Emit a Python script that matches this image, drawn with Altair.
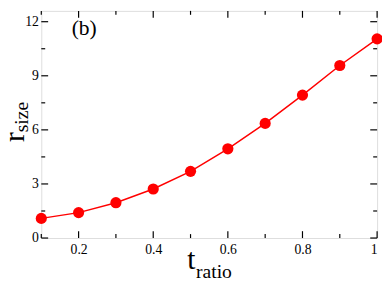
import altair as alt
import pandas as pd

# data
t_ratio = [0.1, 0.2, 0.3, 0.4, 0.5, 0.6, 0.7, 0.8, 0.9, 1.0]
r_size = [1.09, 1.41, 1.96, 2.72, 3.70, 4.95, 6.36, 7.93, 9.57, 11.05]

x_major = [0.2, 0.4, 0.6, 0.8, 1.0]
x_minor = [0.1, 0.3, 0.5, 0.7, 0.9]
y_major = [0, 3, 6, 9, 12]
y_minor = [1.5, 4.5, 7.5, 10.5]

W, H = 343, 232
XDOM = [0.1, 1.0]
YDOM = [0, 12.6]
SERIF = "Times New Roman, Liberation Serif, serif"

df = pd.DataFrame({"t": t_ratio, "r": r_size})

xs = alt.Scale(domain=XDOM, nice=False, zero=False)
ys = alt.Scale(domain=YDOM, nice=False, zero=False)

base = alt.Chart(df)

line = base.mark_line(color="#ff0000", strokeWidth=1.5).encode(
    x=alt.X("t:Q", scale=xs,
            axis=alt.Axis(values=x_major, format=".1~f", title=None, tickSize=0,
                          domain=False, grid=False, labelFont=SERIF, labelFontSize=14,
                          labelColor="black", labelPadding=5)),
    y=alt.Y("r:Q", scale=ys,
            axis=alt.Axis(values=y_major, format="d", title=None, tickSize=0,
                          domain=False, grid=False, labelFont=SERIF, labelFontSize=14,
                          labelColor="black", labelPadding=3)),
)
pts = base.mark_circle(color="#ff0000", size=130, opacity=1).encode(
    x=alt.X("t:Q", scale=xs), y=alt.Y("r:Q", scale=ys)
)


def xticks(vals, length):
    d = pd.DataFrame({"v": vals})
    b = alt.Chart(d).mark_rule(color="black", strokeWidth=1.2)
    bottom = b.encode(x=alt.X("v:Q", scale=xs), y=alt.value(H), y2=alt.value(H - length))
    top = b.encode(x=alt.X("v:Q", scale=xs), y=alt.value(0), y2=alt.value(length))
    return [bottom, top]


def yticks(vals, length):
    d = pd.DataFrame({"v": vals})
    b = alt.Chart(d).mark_rule(color="black", strokeWidth=1.2)
    left = b.encode(y=alt.Y("v:Q", scale=ys), x=alt.value(0), x2=alt.value(length))
    right = b.encode(y=alt.Y("v:Q", scale=ys), x=alt.value(W), x2=alt.value(W - length))
    return [left, right]


ticks = xticks(x_major, 7) + xticks(x_minor, 4) + yticks(y_major, 7) + yticks(y_minor, 4)

label_df = pd.DataFrame({"a": [0]})
lab = alt.Chart(label_df)
panel = lab.mark_text(text="(b)", font=SERIF, fontSize=22, align="left", baseline="alphabetic",
                      color="black").encode(x=alt.value(31), y=alt.value(25))

xt1 = lab.mark_text(text="t", font=SERIF, fontSize=30, align="left", baseline="alphabetic",
                    color="black").encode(x=alt.value(149), y=alt.value(H + 32))
xt2 = lab.mark_text(text="ratio", font=SERIF, fontSize=20, align="left", baseline="alphabetic",
                    color="black").encode(x=alt.value(158), y=alt.value(H + 41))

yt1 = lab.mark_text(text="r", font=SERIF, fontSize=30, align="left", baseline="alphabetic",
                    angle=270, color="black").encode(x=alt.value(-18), y=alt.value(134))
yt2 = lab.mark_text(text="size", font=SERIF, fontSize=20, align="left", baseline="alphabetic",
                    angle=270, color="black").encode(x=alt.value(-14), y=alt.value(124))

chart = alt.layer(line, pts, *ticks, panel, xt1, xt2, yt1, yt2).properties(
    width=W, height=H,
    autosize=alt.AutoSizeParams(type="none"),
    padding={"left": 34, "top": 0, "right": 5, "bottom": 44},
).configure_view(stroke="black", strokeWidth=1.5).configure(background="white")

chart.save("out.html", embed_options={"renderer": "svg", "actions": False})
